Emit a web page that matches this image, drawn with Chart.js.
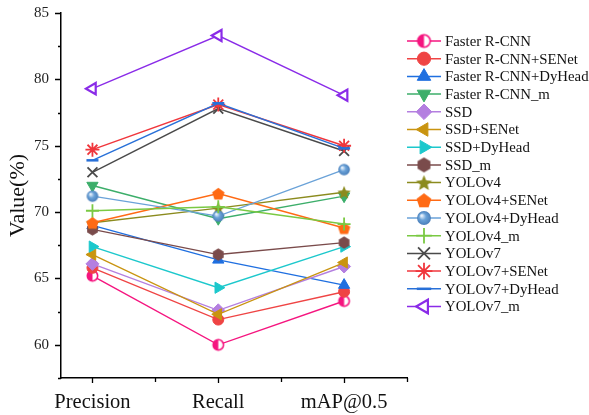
<!DOCTYPE html>
<html>
<head>
<meta charset="utf-8">
<script src="https://cdn.jsdelivr.net/npm/chart.js@4.4.0/dist/chart.umd.min.js"></script>
<style>
    html, body { margin: 0; padding: 0; background: #fff; }
    #wrap { width: 589px; height: 415px; position: relative; }
</style>
</head>
<body>
<div id="wrap"><canvas id="myChart"></canvas></div>
<script>
const categories = ['Precision', 'Recall', 'mAP@0.5'];
const seriesNames = [
    'Faster R-CNN', 'Faster R-CNN+SENet', 'Faster R-CNN+DyHead', 'Faster R-CNN_m',
    'SSD', 'SSD+SENet', 'SSD+DyHead', 'SSD_m',
    'YOLOv4', 'YOLOv4+SENet', 'YOLOv4+DyHead', 'YOLOv4_m',
    'YOLOv7', 'YOLOv7+SENet', 'YOLOv7+DyHead', 'YOLOv7_m'
];

// values per model: Precision, Recall, mAP@0.5
const fasterRcnn       = [65.2, 60.0, 63.3];
const fasterRcnnSENet  = [65.8, 61.9, 64.0];
const fasterRcnnDyHead = [69.0, 66.4, 64.5];
const fasterRcnnM      = [72.0, 69.5, 71.2];
const ssd              = [66.1, 62.6, 65.9];
const ssdSENet         = [66.8, 62.3, 66.2];
const ssdDyHead        = [67.4, 64.3, 67.4];
const ssdM             = [68.7, 66.8, 67.7];
const yolov4           = [69.2, 70.3, 71.5];
const yolov4SENet      = [69.2, 71.4, 68.8];
const yolov4DyHead     = [71.2, 69.7, 73.2];
const yolov4M          = [70.1, 70.4, 69.1];
const yolov7           = [73.0, 77.8, 74.6];
const yolov7SENet      = [74.7, 78.1, 75.0];
const yolov7DyHead     = [73.9, 78.2, 74.8];
const yolov7M          = [79.3, 83.3, 78.8];

const allSeries = [
    fasterRcnn, fasterRcnnSENet, fasterRcnnDyHead, fasterRcnnM,
    ssd, ssdSENet, ssdDyHead, ssdM,
    yolov4, yolov4SENet, yolov4DyHead, yolov4M,
    yolov7, yolov7SENet, yolov7DyHead, yolov7M
];

const yTicks = [60, 65, 70, 75, 80, 85];
const yMinorTicks = [57.5, 62.5, 67.5, 72.5, 77.5, 82.5];

const serif = "'Liberation Serif', 'Times New Roman', serif";

// --- custom marker canvases ---
function markerCanvas(size, paint) {
    const c = document.createElement('canvas');
    c.width = size;
    c.height = size;
    const g = c.getContext('2d');
    paint(g, size / 2, size / 2);
    return c;
}

function polygon(g, cx, cy, pts) {
    g.beginPath();
    pts.forEach((p, k) => {
        const px = cx + p[0], py = cy + p[1];
        if (k === 0) g.moveTo(px, py); else g.lineTo(px, py);
    });
    g.closePath();
}

function regular(n, r, start) {
    const pts = [];
    for (let k = 0; k < n; k++) {
        const a = start + k * 2 * Math.PI / n;
        pts.push([r * Math.cos(a), r * Math.sin(a)]);
    }
    return pts;
}

function halfCircle(color, r) {
    return markerCanvas(Math.ceil(r * 2 + 4), (g, cx, cy) => {
        g.beginPath();
        g.arc(cx, cy, r, 0, Math.PI * 2);
        g.fillStyle = '#fff';
        g.fill();
        g.beginPath();
        g.moveTo(cx, cy - r);
        g.arc(cx, cy, r, Math.PI * 1.5, Math.PI * 0.5, true);
        g.closePath();
        g.fillStyle = color;
        g.fill();
        g.beginPath();
        g.arc(cx, cy, r, 0, Math.PI * 2);
        g.lineWidth = 1.6;
        g.strokeStyle = color;
        g.stroke();
    });
}

function hexagon(color, r) {
    return markerCanvas(Math.ceil(r * 2 + 2), (g, cx, cy) => {
        polygon(g, cx, cy, regular(6, r, -Math.PI / 2));
        g.fillStyle = color;
        g.fill();
    });
}

function pentagon(color, r) {
    return markerCanvas(Math.ceil(r * 2 + 2), (g, cx, cy) => {
        polygon(g, cx, cy + 0.8, regular(5, r, -Math.PI / 2));
        g.fillStyle = color;
        g.fill();
    });
}

function star(color, r) {
    return markerCanvas(Math.ceil(r * 2 + 2), (g, cx, cy) => {
        const pts = [];
        for (let k = 0; k < 10; k++) {
            const a = -Math.PI / 2 + k * Math.PI / 5;
            const rr = k % 2 ? r * 0.45 : r;
            pts.push([rr * Math.cos(a), rr * Math.sin(a)]);
        }
        polygon(g, cx, cy + 0.8, pts);
        g.fillStyle = color;
        g.fill();
    });
}

function sphere(color, r) {
    return markerCanvas(Math.ceil(r * 2 + 2), (g, cx, cy) => {
        const grad = g.createRadialGradient(cx - r * 0.35, cy - r * 0.35, r * 0.1, cx, cy, r);
        grad.addColorStop(0, '#e6f0fb');
        grad.addColorStop(0.45, color);
        grad.addColorStop(1, '#4a7fba');
        g.beginPath();
        g.arc(cx, cy, r, 0, Math.PI * 2);
        g.fillStyle = grad;
        g.fill();
    });
}

const colors = [
    '#F5157F', '#EF4444', '#1F6FE0', '#3CAE6A',
    '#B47FE0', '#C99410', '#1CC8CC', '#7A4B4B',
    '#8B8B1E', '#FF6A14', '#6AA2D8', '#7AC943',
    '#4A4A4A', '#F0363C', '#2870D8', '#8A2BE8'
];

// marker style per series; canvas markers get a plot and a legend size
function markerFor(i, big) {
    const k = big ? 1.2 : 1;
    const c = colors[i];
    switch (i) {
        case 0: return { style: halfCircle(c, 5.2 * k) };
        case 1: return { style: 'circle', radius: 5.5 * k };
        case 2: return { style: 'triangle', radius: 6.5 * k };
        case 3: return { style: 'triangle', radius: 6.5 * k, rotation: 180 };
        case 4: return { style: 'rectRot', radius: 6.5 * k };
        case 5: return { style: 'triangle', radius: 6.5 * k, rotation: -90 };
        case 6: return { style: 'triangle', radius: 6.5 * k, rotation: 90 };
        case 7: return { style: hexagon(c, 6.2 * k) };
        case 8: return { style: star(c, 7 * k) };
        case 9: return { style: pentagon(c, 6.5 * k) };
        case 10: return { style: sphere(c, 5.8 * k) };
        case 11: return { style: 'cross', radius: 6.5 * k, border: 1.8 };
        case 12: return { style: 'crossRot', radius: 7 * k, border: 1.8 };
        case 13: return { style: 'star', radius: 7 * k, border: 1.8 };
        case 14: return { style: 'line', radius: 6 * k, border: 2.5 };
        case 15: return { style: 'triangle', radius: 6.5 * k, rotation: -90, hollow: true, border: 2.2 };
    }
}

const datasets = allSeries.map((vals, i) => {
    const m = markerFor(i, false);
    return {
        label: seriesNames[i],
        data: vals.map((v, j) => ({ x: j + 1, y: v })),
        borderColor: colors[i],
        backgroundColor: colors[i],
        borderWidth: 1.4,
        pointStyle: m.style,
        pointRadius: m.radius || 6,
        pointRotation: m.rotation || 0,
        pointBackgroundColor: m.hollow ? '#fff' : colors[i],
        pointBorderColor: colors[i],
        pointBorderWidth: m.border || 1,
        tension: 0,
        order: allSeries.length - i,
        clip: false
    };
});

// tick marks on both axes plus the right-hand legend
const axisDecor = {
    id: 'axisDecor',
    afterDraw(chart) {
        const ctx = chart.ctx;
        const xs = chart.scales.x, ys = chart.scales.y;
        const left = chart.chartArea.left, bottom = chart.chartArea.bottom;
        ctx.save();
        ctx.strokeStyle = '#000';
        ctx.lineWidth = 1.3;
        ctx.beginPath();
        yTicks.forEach(v => {
            const py = Math.round(ys.getPixelForValue(v)) + 0.5;
            ctx.moveTo(left - 6, py);
            ctx.lineTo(left, py);
        });
        yMinorTicks.forEach(v => {
            const py = Math.round(ys.getPixelForValue(v)) + 0.5;
            ctx.moveTo(left - 3, py);
            ctx.lineTo(left, py);
        });
        [1, 1.5, 2, 2.5, 3, 3.5].forEach(v => {
            const px = Math.round(xs.getPixelForValue(v)) + 0.5;
            ctx.moveTo(px, bottom);
            ctx.lineTo(px, bottom + (Number.isInteger(v) ? 5 : 4));
        });
        ctx.stroke();

        // legend
        const lx0 = 407, lx1 = 441, mx = 424, tx = 445;
        const top = 41, step = 17.7;
        ctx.font = '14.8px ' + serif;
        ctx.textBaseline = 'middle';
        ctx.textAlign = 'left';
        seriesNames.forEach((name, i) => {
            const y = top + i * step;
            ctx.strokeStyle = colors[i];
            ctx.lineWidth = 1.5;
            ctx.beginPath();
            ctx.moveTo(lx0, y);
            ctx.lineTo(lx1, y);
            ctx.stroke();
            const m = markerFor(i, true);
            if (typeof m.style !== 'string') {
                ctx.drawImage(m.style, mx - m.style.width / 2, y - m.style.height / 2);
            } else {
                ctx.fillStyle = m.hollow ? '#fff' : colors[i];
                ctx.strokeStyle = colors[i];
                ctx.lineWidth = m.border || 1;
                Chart.helpers.drawPoint(ctx, {
                    pointStyle: m.style,
                    rotation: m.rotation || 0,
                    radius: m.radius,
                    borderWidth: m.border || 1
                }, mx, y);
            }
            ctx.fillStyle = '#111';
            ctx.fillText(name, tx, y + 1);
        });
        ctx.restore();
    }
};

const ctx = document.getElementById('myChart').getContext('2d');
const myChart = new Chart(ctx, {
    type: 'line',
    data: { datasets: datasets },
    options: {
        responsive: true,
        maintainAspectRatio: false,
        animation: false,
        events: [],
        layout: { padding: { top: 13, right: 182, left: 0, bottom: 0 } },
        plugins: {
            legend: { display: false },
            tooltip: { enabled: false }
        },
        scales: {
            x: {
                type: 'linear',
                min: 0.75,
                max: 3.5,
                afterBuildTicks: s => { s.ticks = categories.map((c, i) => ({ value: i + 1 })); },
                afterFit: s => { s.height = 37; s.paddingLeft = 0; s.paddingRight = 0; },
                grid: { display: false, drawTicks: false },
                border: { display: true, color: '#000', width: 1.5 },
                ticks: {
                    autoSkip: false,
                    maxRotation: 0,
                    padding: 12,
                    color: '#111',
                    font: { family: serif, size: 20.5 },
                    callback: v => categories[v - 1] || ''
                }
            },
            y: {
                min: 57.5,
                max: 85,
                afterBuildTicks: s => { s.ticks = yTicks.map(v => ({ value: v })); },
                afterFit: s => { s.width = 61; s.paddingTop = 0; s.paddingBottom = 0; },
                grid: { display: false, drawTicks: false },
                border: { display: true, color: '#000', width: 1.5 },
                ticks: {
                    padding: 12,
                    color: '#222',
                    font: { family: serif, size: 15 }
                },
                title: {
                    display: true,
                    text: 'Value(%)',
                    color: '#111',
                    font: { family: serif, size: 22 },
                    padding: { top: 5, bottom: 0 }
                }
            }
        }
    },
    plugins: [axisDecor]
});
</script>
</body>
</html>
